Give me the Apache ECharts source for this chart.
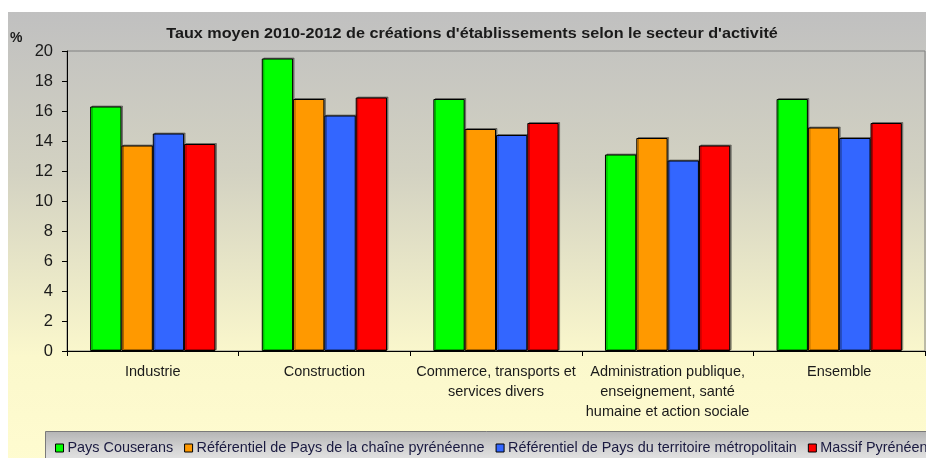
<!DOCTYPE html>
<html>
<head>
<meta charset="utf-8">
<script src="https://cdn.jsdelivr.net/npm/echarts@6/dist/echarts.min.js"></script>
<style>
  html, body { margin: 0; padding: 0; background: #ffffff; }
  #chart { width: 926px; height: 458px; }
</style>
</head>
<body>
<div id="chart"></div>
<script>
// Sectors of activity (x axis)
const categories = [
  'Industrie',
  'Construction',
  'Commerce, transports et\nservices divers',
  'Administration publique,\nenseignement, santé\nhumaine et action sociale',
  'Ensemble'
];

// Average rate of business creations 2010-2012, in %
const paysCouserans = [16.3, 19.5, 16.8, 13.1, 16.8];
const refChainePyreneenne = [13.7, 16.8, 14.8, 14.2, 14.9];
const refTerritoireMetro = [14.5, 15.7, 14.4, 12.7, 14.2];
const massifPyreneen = [13.8, 16.9, 15.2, 13.7, 15.2];

const seriesNames = [
  'Pays Couserans',
  'Référentiel de Pays de la chaîne pyrénéenne',
  'Référentiel de Pays du territoire métropolitain',
  'Massif Pyrénéen'
];
const seriesValues = [paysCouserans, refChainePyreneenne, refTerritoireMetro, massifPyreneen];
const seriesColors = ['#00ff00', '#ff9900', '#3366ff', '#ff0000'];

const yTicks = { min: 0, max: 20, interval: 2 };

const titleText = "Taux moyen 2010-2012 de créations d'établissements selon le secteur d'activité";

const FONT = "'Liberation Sans', Arial, sans-serif";
const NARROW = "'Liberation Sans Narrow', 'Liberation Sans', Arial, sans-serif";

const chart = echarts.init(document.getElementById('chart'), null, { renderer: 'canvas' });

chart.setOption({
  animation: false,
  backgroundColor: '#ffffff',
  graphic: [
    {
      type: 'rect', z: -10, silent: true,
      shape: { x: 8, y: 12, width: 926, height: 460 },
      style: {
        fill: new echarts.graphic.LinearGradient(0, 0, 0, 1, [
          { offset: 0, color: '#c0c0c0' },
          { offset: 0.35, color: '#d3d2c2' },
          { offset: 0.75, color: '#fbf8cc' },
          { offset: 1, color: '#fffcd0' }
        ])
      }
    },
    {
      type: 'rect', z: -5, silent: true,
      shape: { x: 45.5, y: 431.5, width: 900, height: 40 },
      style: {
        stroke: '#7a7a7a', lineWidth: 1,
        fill: new echarts.graphic.LinearGradient(0, 0, 0, 1, [
          { offset: 0, color: '#b4b4b4' },
          { offset: 0.5, color: '#d8d8d8' },
          { offset: 1, color: '#f0f0f0' }
        ])
      }
    },
    {
      type: 'text', x: 10, y: 31, silent: true,
      style: { text: '%', font: 'bold 14px ' + FONT, fill: '#1a1a1a' }
    },
    {
      // chart title, slightly widened
      type: 'text', x: 472, y: 34, scaleX: 1.08, silent: true,
      style: {
        text: titleText, font: 'bold 15px ' + FONT, fill: '#1a1a1a',
        align: 'center', verticalAlign: 'middle'
      }
    }
  ],
  legend: {
    left: 50,
    top: 436,
    width: 1400,
    itemWidth: 8,
    itemHeight: 8,
    itemGap: 11,
    icon: 'rect',
    itemStyle: { borderColor: '#000', borderWidth: 1 },
    textStyle: { fontFamily: NARROW, fontSize: 14.4, color: '#1a1a40', padding: [0, 0, 0, -1] },
    data: seriesNames
  },
  grid: {
    left: 67, top: 51, right: 1, bottom: 107,
    show: true, borderColor: '#808080', borderWidth: 1, backgroundColor: 'transparent'
  },
  xAxis: {
    type: 'category',
    data: categories,
    axisLine: { lineStyle: { color: '#000', width: 1 } },
    axisTick: { show: true, length: 5, lineStyle: { color: '#000' } },
    axisLabel: {
      fontFamily: NARROW, fontSize: 14.5, color: '#1a1a1a',
      lineHeight: 20, margin: 11, interval: 0
    }
  },
  yAxis: {
    type: 'value',
    min: yTicks.min, max: yTicks.max, interval: yTicks.interval,
    axisLine: { show: true, lineStyle: { color: '#000', width: 1 } },
    axisTick: { show: true, length: 5, lineStyle: { color: '#000' } },
    splitLine: { show: false },
    axisLabel: { fontFamily: FONT, fontSize: 16.5, color: '#1a1a1a', margin: 14 }
  },
  series: seriesNames.map((name, i) => ({
    name: name,
    type: 'bar',
    data: seriesValues[i],
    barGap: '0%',
    barCategoryGap: '27%',
    itemStyle: {
      color: seriesColors[i],
      borderColor: '#000',
      borderWidth: 1,
      shadowColor: 'rgba(0,0,0,0.35)',
      shadowOffsetX: 1.5,
      shadowOffsetY: -1
    }
  }))
});
</script>
</body>
</html>
